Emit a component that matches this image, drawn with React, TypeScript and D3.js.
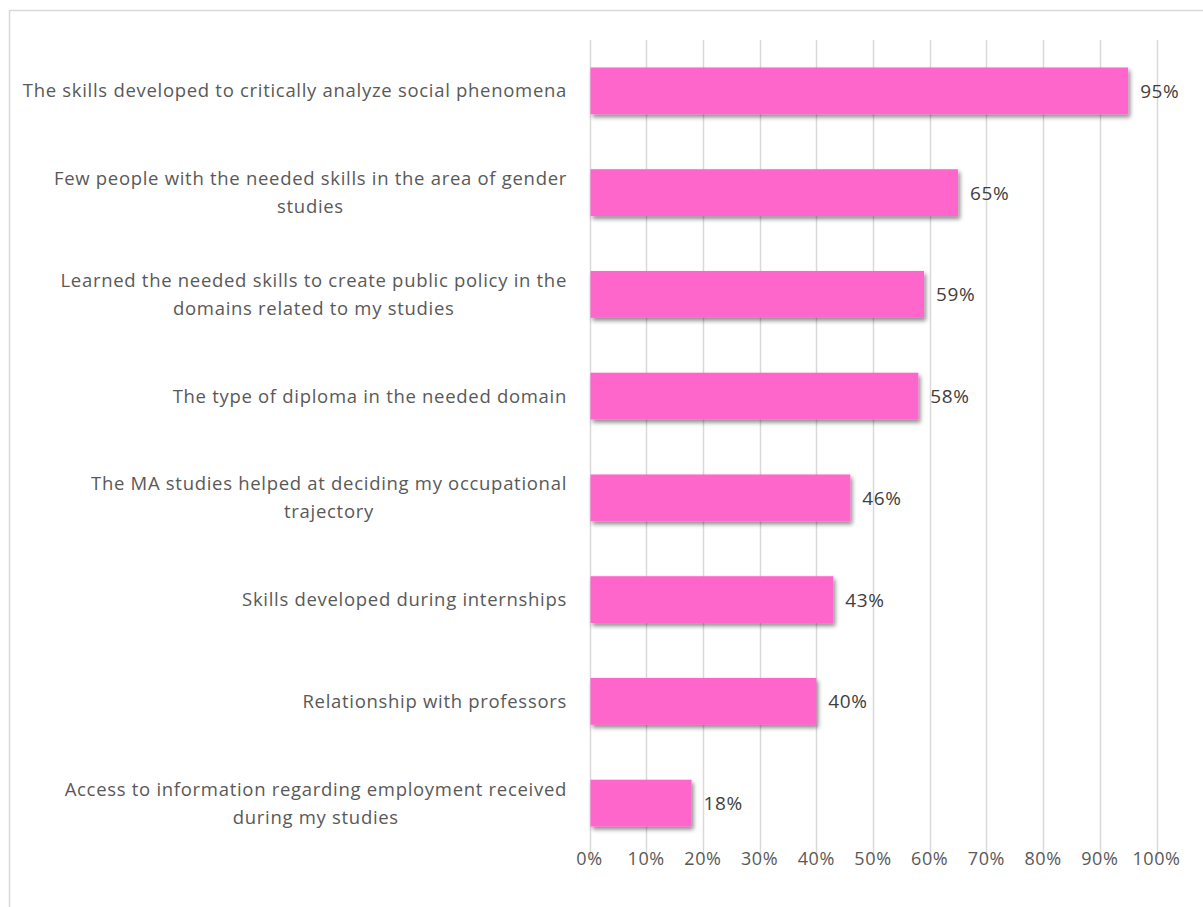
import React, { useEffect, useRef } from "react";
import * as d3 from "d3";

const categories: string[][] = [
  ["The skills developed to critically analyze social phenomena"],
  ["Few people with the needed skills in the area of gender", "studies"],
  ["Learned the needed skills to create public policy in the", "domains related to my studies"],
  ["The type of diploma in the needed domain"],
  ["The MA studies helped at deciding my occupational", "trajectory"],
  ["Skills developed during internships"],
  ["Relationship with professors"],
  ["Access to information regarding employment received", "during my studies"],
];
const values: number[] = [95, 65, 59, 58, 46, 43, 40, 18];
const ticks: number[] = [0, 10, 20, 30, 40, 50, 60, 70, 80, 90, 100];

const W = 1203;
const H = 907;
const FONT = "'Open Sans', sans-serif";

export default function App() {
  const ref = useRef<SVGSVGElement>(null);

  useEffect(() => {
    const svg = d3.select(ref.current);
    svg.selectAll("*").remove();

    const left = 589.5;
    const right = 1156.5;
    const top = 40;
    const bottom = 858;

    const x = d3.scaleLinear().domain([0, 100]).range([left, right]);
    const y = d3
      .scaleBand<number>()
      .domain(categories.map((_, i) => i))
      .range([top, bottom - 4])
      .paddingInner(0.54)
      .paddingOuter(0.27);

    const defs = svg.append("defs");
    const f = defs
      .append("filter")
      .attr("id", "shadow")
      .attr("x", "-10%")
      .attr("y", "-20%")
      .attr("width", "130%")
      .attr("height", "160%");
    f.append("feDropShadow")
      .attr("dx", 2)
      .attr("dy", 3)
      .attr("stdDeviation", 2)
      .attr("flood-color", "#000")
      .attr("flood-opacity", 0.45);

    // outer border
    svg
      .append("rect")
      .attr("x", 9.5)
      .attr("y", 10.5)
      .attr("width", W + 20)
      .attr("height", H + 20)
      .attr("fill", "none")
      .attr("stroke", "#d9d9d9")
      .attr("stroke-width", 1.5);

    // gridlines
    svg
      .append("g")
      .selectAll("line")
      .data(ticks)
      .join("line")
      .attr("x1", (d) => Math.round(x(d)) + 0.5)
      .attr("x2", (d) => Math.round(x(d)) + 0.5)
      .attr("y1", top)
      .attr("y2", bottom)
      .attr("stroke", "#d9d9d9")
      .attr("stroke-width", 1.5);

    // tick labels
    svg
      .append("g")
      .selectAll("text")
      .data(ticks)
      .join("text")
      .attr("x", (d) => x(d))
      .attr("y", 865)
      .attr("text-anchor", "middle")
      .attr("font-family", FONT)
      .attr("font-size", 18)
      .attr("letter-spacing", 0.6)
      .attr("fill", "#595959")
      .text((d) => `${d}%`);

    // bars
    svg
      .append("g")
      .selectAll("rect")
      .data(values)
      .join("rect")
      .attr("x", x(0) + 1)
      .attr("y", (_, i) => y(i)!)
      .attr("width", (d) => x(d) - x(0) - 1)
      .attr("height", y.bandwidth())
      .attr("fill", "#FF66CC")
      .attr("filter", "url(#shadow)");

    // value labels
    svg
      .append("g")
      .selectAll("text")
      .data(values)
      .join("text")
      .attr("x", (d) => x(d) + 12)
      .attr("y", (_, i) => y(i)! + y.bandwidth() / 2 + 7)
      .attr("font-family", FONT)
      .attr("font-size", 19)
      .attr("letter-spacing", 0.6)
      .attr("fill", "#404040")
      .text((d) => `${d}%`);

    // category labels
    const labelRight = 567;
    const lineH = 28;
    categories.forEach((lines, i) => {
      const cy = y(i)! + y.bandwidth() / 2;
      const g = svg.append("g");
      const texts = lines.map((ln, k) =>
        g
          .append("text")
          .attr("y", cy + 6.5 + (k - (lines.length - 1) / 2) * lineH)
          .attr("font-family", FONT)
          .attr("font-size", 18.5)
          .attr("letter-spacing", 0.7)
          .attr("fill", "#595959")
          .text(ln)
      );
      const widths = texts.map((t) => (t.node() as SVGTextElement).getComputedTextLength());
      const maxW = Math.max(...widths);
      const cx = labelRight - maxW / 2;
      texts.forEach((t) => t.attr("x", cx).attr("text-anchor", "middle"));
    });
  }, []);

  return (
    <svg
      ref={ref}
      width={W}
      height={H}
      style={{ position: "absolute", left: 0, top: 0, background: "#fff" }}
    />
  );
}
